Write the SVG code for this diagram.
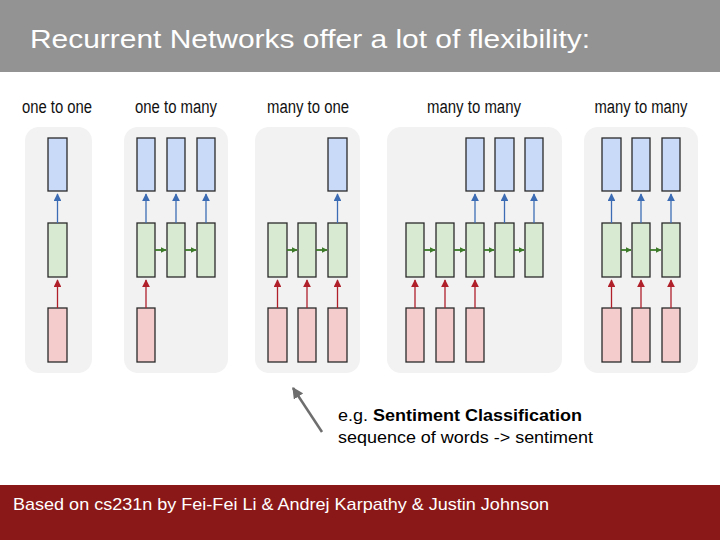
<svg xmlns="http://www.w3.org/2000/svg" width="720" height="540" viewBox="0 0 720 540">
<defs>
<style>
.lbl{font-family:"Liberation Sans",Arial,sans-serif;font-size:18px;fill:#111;text-anchor:middle}
.panel{fill:#f2f2f2}
.b{fill:#c9daf8;stroke:#2a2a2a;stroke-width:1.3}
.g{fill:#d9ead3;stroke:#2a2a2a;stroke-width:1.3}
.r{fill:#f4cccc;stroke:#2a2a2a;stroke-width:1.3}
.ab{stroke:#3c6cb4;stroke-width:1.3;fill:none;marker-end:url(#mb)}
.ar{stroke:#b0202a;stroke-width:1.3;fill:none;marker-end:url(#mr)}
.ag{stroke:#3d7a2a;stroke-width:1.8;fill:none;marker-end:url(#mg)}
</style>
<marker id="mb" viewBox="0 0 10 10" refX="9" refY="5" markerWidth="6" markerHeight="6" orient="auto" markerUnits="strokeWidth"><path d="M0,0L10,5L0,10z" fill="#3c6cb4"/></marker>
<marker id="mr" viewBox="0 0 10 10" refX="9" refY="5" markerWidth="6" markerHeight="6" orient="auto" markerUnits="strokeWidth"><path d="M0,0L10,5L0,10z" fill="#b0202a"/></marker>
<marker id="mg" viewBox="0 0 10 10" refX="9" refY="5" markerWidth="3.3" markerHeight="3.8" orient="auto" markerUnits="strokeWidth"><path d="M0,0L10,5L0,10z" fill="#3d7a2a"/></marker>
<marker id="mgray" viewBox="0 0 10 10" refX="9" refY="5" markerWidth="4.5" markerHeight="4.5" orient="auto" markerUnits="strokeWidth"><path d="M0,0L10,5L0,10z" fill="#6e6e6e"/></marker>
</defs>

<rect x="0" y="0" width="720" height="72" fill="#939393"/>
<text x="30" y="48" font-family="'Liberation Sans',Arial,sans-serif" font-size="26" fill="#ffffff" textLength="560" lengthAdjust="spacingAndGlyphs">Recurrent Networks offer a lot of flexibility:</text>

<g id="panels">
<rect class="panel" x="25" y="127" width="67" height="246" rx="14"/>
<rect class="panel" x="124" y="127" width="104" height="246" rx="14"/>
<rect class="panel" x="255" y="127" width="105" height="246" rx="14"/>
<rect class="panel" x="387" y="127" width="175" height="246" rx="14"/>
<rect class="panel" x="584" y="127" width="114" height="246" rx="14"/>
</g>

<g id="labels">
<text class="lbl" x="57" y="113" textLength="70" lengthAdjust="spacingAndGlyphs">one to one</text>
<text class="lbl" x="176" y="113" textLength="82" lengthAdjust="spacingAndGlyphs">one to many</text>
<text class="lbl" x="308" y="113" textLength="82" lengthAdjust="spacingAndGlyphs">many to one</text>
<text class="lbl" x="474" y="113" textLength="94" lengthAdjust="spacingAndGlyphs">many to many</text>
<text class="lbl" x="641" y="113" textLength="93" lengthAdjust="spacingAndGlyphs">many to many</text>
</g>

<g id="p1">
<rect class="b" x="48" y="138" width="19" height="53"/>
<rect class="g" x="48" y="223" width="19" height="54"/>
<rect class="r" x="48" y="308" width="19" height="54"/>
</g>
<g id="p2">
<rect class="b" x="137" y="138" width="18" height="53"/>
<rect class="b" x="167" y="138" width="18" height="53"/>
<rect class="b" x="197" y="138" width="18" height="53"/>
<rect class="g" x="137" y="223" width="18" height="54"/>
<rect class="g" x="167" y="223" width="18" height="54"/>
<rect class="g" x="197" y="223" width="18" height="54"/>
<rect class="r" x="137" y="308" width="18" height="54"/>
</g>
<g id="p3">
<rect class="b" x="328" y="138" width="19" height="53"/>
<rect class="g" x="268" y="223" width="19" height="54"/>
<rect class="g" x="298" y="223" width="18" height="54"/>
<rect class="g" x="328" y="223" width="19" height="54"/>
<rect class="r" x="268" y="308" width="19" height="54"/>
<rect class="r" x="298" y="308" width="18" height="54"/>
<rect class="r" x="328" y="308" width="19" height="54"/>
</g>
<g id="p4">
<rect class="b" x="466" y="138" width="18" height="53"/>
<rect class="b" x="495" y="138" width="19" height="53"/>
<rect class="b" x="525" y="138" width="18" height="53"/>
<rect class="g" x="406" y="223" width="18" height="54"/>
<rect class="g" x="436" y="223" width="18" height="54"/>
<rect class="g" x="466" y="223" width="18" height="54"/>
<rect class="g" x="495" y="223" width="19" height="54"/>
<rect class="g" x="525" y="223" width="18" height="54"/>
<rect class="r" x="406" y="308" width="18" height="54"/>
<rect class="r" x="436" y="308" width="18" height="54"/>
<rect class="r" x="466" y="308" width="18" height="54"/>
</g>
<g id="p5">
<rect class="b" x="602" y="138" width="19" height="53"/>
<rect class="b" x="632" y="138" width="18" height="53"/>
<rect class="b" x="662" y="138" width="18" height="53"/>
<rect class="g" x="602" y="223" width="19" height="54"/>
<rect class="g" x="632" y="223" width="18" height="54"/>
<rect class="g" x="662" y="223" width="18" height="54"/>
<rect class="r" x="602" y="308" width="19" height="54"/>
<rect class="r" x="632" y="308" width="18" height="54"/>
<rect class="r" x="662" y="308" width="18" height="54"/>
</g>

<g id="connectors">
<path class="ab" d="M57.5,223V194"/>
<path class="ab" d="M146,223V194"/>
<path class="ab" d="M176,223V194"/>
<path class="ab" d="M206,223V194"/>
<path class="ab" d="M337.5,223V194"/>
<path class="ab" d="M475,223V194"/>
<path class="ab" d="M504.5,223V194"/>
<path class="ab" d="M534,223V194"/>
<path class="ab" d="M611.5,223V194"/>
<path class="ab" d="M641,223V194"/>
<path class="ab" d="M671,223V194"/>
<path class="ar" d="M57.5,308V280"/>
<path class="ar" d="M146,308V280"/>
<path class="ar" d="M277.5,308V280"/>
<path class="ar" d="M307,308V280"/>
<path class="ar" d="M337.5,308V280"/>
<path class="ar" d="M415,308V280"/>
<path class="ar" d="M445,308V280"/>
<path class="ar" d="M475,308V280"/>
<path class="ar" d="M611.5,308V280"/>
<path class="ar" d="M641,308V280"/>
<path class="ar" d="M671,308V280"/>
<path class="ag" d="M155,250H166"/>
<path class="ag" d="M185,250H196"/>
<path class="ag" d="M287,250H297"/>
<path class="ag" d="M316,250H327"/>
<path class="ag" d="M424,250H435"/>
<path class="ag" d="M454,250H465"/>
<path class="ag" d="M484,250H494"/>
<path class="ag" d="M514,250H524"/>
<path class="ag" d="M621,250H631"/>
<path class="ag" d="M650,250H661"/>
<path d="M322,432L293,388" stroke="#6e6e6e" stroke-width="2.5" fill="none" marker-end="url(#mgray)"/>
</g>

<g id="annotation" font-family="'Liberation Sans',Arial,sans-serif" font-size="16" fill="#000">
<text x="338" y="421" textLength="244" lengthAdjust="spacingAndGlyphs">e.g. <tspan font-weight="bold">Sentiment Classification</tspan></text>
<text x="338" y="443" textLength="255" lengthAdjust="spacingAndGlyphs">sequence of words -&gt; sentiment</text>
</g>

<rect x="0" y="485" width="720" height="55" fill="#8b1818"/>
<text x="13" y="510" font-family="'Liberation Sans',Arial,sans-serif" font-size="17" fill="#ffffff" textLength="536" lengthAdjust="spacingAndGlyphs">Based on cs231n by Fei-Fei Li &amp; Andrej Karpathy &amp; Justin Johnson</text>
</svg>
